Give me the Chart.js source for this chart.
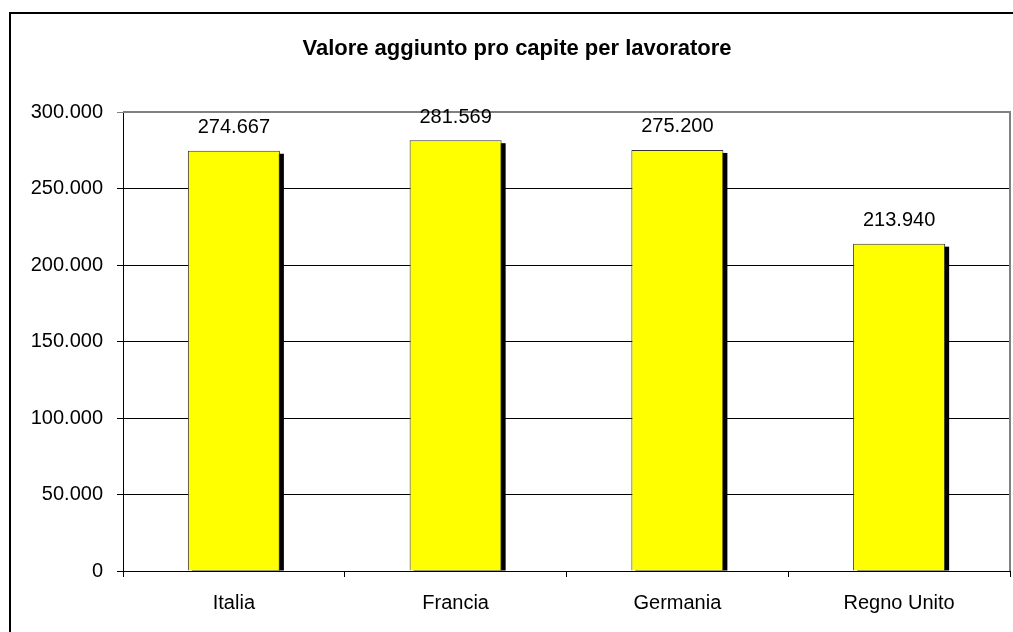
<!DOCTYPE html>
<html><head><meta charset="utf-8">
<script src="https://cdn.jsdelivr.net/npm/chart.js@4/dist/chart.umd.min.js"></script>
<style>html,body{margin:0;padding:0;background:#fff}#c{display:block}</style>
</head><body>
<canvas id="c" width="1013" height="632"></canvas>
<script>
const titleText = "Valore aggiunto pro capite per lavoratore";
const categories = ["Italia", "Francia", "Germania", "Regno Unito"];
const values = [274667, 281569, 275200, 213940];
const yTicks = [0, 50000, 100000, 150000, 200000, 250000, 300000];

const fmt = v => v === 0 ? "0" : v.toString().replace(/\B(?=(\d{3})+(?!\d))/g, ".");
const FONT = "'Liberation Sans', Arial, sans-serif";

const decor = {
  id: 'decor',
  beforeDatasetsDraw(chart) {
    const ctx = chart.ctx;
    const meta = chart.getDatasetMeta(0);
    ctx.save();
    ctx.fillStyle = '#000';
    meta.data.forEach(b => {
      const w = b.width;
      const left = b.x - w / 2;
      ctx.fillRect(left + 4, b.y + 3, w, b.base - b.y - 3);
    });
    ctx.restore();
  },
  afterDraw(chart) {
    const ctx = chart.ctx;
    const a = chart.chartArea;
    ctx.save();
    ctx.strokeStyle = '#808080';
    ctx.lineWidth = 2;
    ctx.beginPath();
    ctx.moveTo(a.left, a.top);
    ctx.lineTo(a.right, a.top);
    ctx.lineTo(a.right, a.bottom);
    ctx.stroke();
    ctx.strokeStyle = '#000';
    ctx.lineWidth = 2;
    ctx.strokeRect(10, 13, 1010, 640);
    ctx.fillStyle = '#000';
    ctx.font = "bold 22px " + FONT;
    ctx.textAlign = 'center';
    ctx.textBaseline = 'middle';
    ctx.fillText(titleText, 517, 49);
    ctx.font = "20px " + FONT;
    const meta = chart.getDatasetMeta(0);
    meta.data.forEach((b, i) => {
      ctx.fillText(fmt(values[i]), b.x, b.y - 23);
    });
    ctx.restore();
  }
};

new Chart(document.getElementById('c'), {
  type: 'bar',
  data: {
    labels: categories,
    datasets: [{
      data: values,
      backgroundColor: '#ffff00',
      borderColor: '#333333',
      borderWidth: 1,
      borderSkipped: 'bottom',
      categoryPercentage: 1,
      barPercentage: 0.415
    }]
  },
  options: {
    responsive: false,
    animation: false,
    devicePixelRatio: 1,
    layout: { padding: { left: 0, right: 3, top: 112, bottom: 0 } },
    plugins: { legend: { display: false }, title: { display: false }, tooltip: { enabled: false } },
    scales: {
      x: {
        offset: true,
        grid: { offset: true, drawOnChartArea: false, drawTicks: true, tickLength: 6, color: '#000', lineWidth: 1 },
        border: { display: true, color: '#000', width: 1 },
        ticks: { color: '#000', font: { family: FONT, size: 20 }, padding: 14, maxRotation: 0 },
        afterFit(s) { s.height = 61; }
      },
      y: {
        min: 0, max: 300000,
        afterBuildTicks(s) { s.ticks = yTicks.map(v => ({ value: v })); },
        grid: {
          color: ctx => ctx.tick && ctx.tick.value === 300000 ? '#808080' : '#000',
          lineWidth: 1, tickLength: 6, drawTicks: true
        },
        border: { display: true, color: '#000', width: 1 },
        ticks: { color: '#000', font: { family: FONT, size: 20 }, padding: 14, callback: v => fmt(v) },
        afterFit(s) { s.width = 123; }
      }
    }
  },
  plugins: [decor]
});
</script>
</body></html>
